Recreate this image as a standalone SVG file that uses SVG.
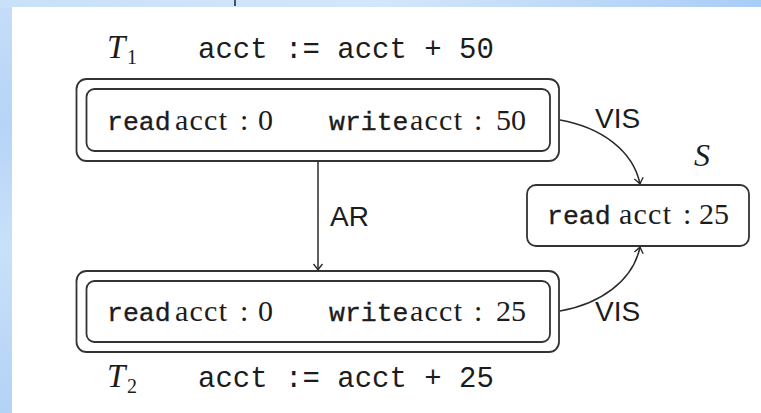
<svg xmlns="http://www.w3.org/2000/svg" width="761" height="413" viewBox="0 0 761 413">
  <defs>
    <linearGradient id="bgTop" x1="0" y1="0" x2="1" y2="0">
      <stop offset="0" stop-color="#c9e0f9"/>
      <stop offset="0.5" stop-color="#d4e6fa"/>
      <stop offset="1" stop-color="#a9cdf6"/>
    </linearGradient>
    <linearGradient id="bgLeft" x1="0" y1="0" x2="0" y2="1">
      <stop offset="0" stop-color="#c6ddf8"/>
      <stop offset="0.3" stop-color="#b6d4f7"/>
      <stop offset="0.6" stop-color="#c9e0f9"/>
      <stop offset="1" stop-color="#b3d2f6"/>
    </linearGradient>
    <marker id="tip" viewBox="-8 -6 10 12" markerWidth="10" markerHeight="12" refX="0" refY="0" orient="auto" markerUnits="userSpaceOnUse">
      <path d="M-6,-4.5 Q-2,-1.2 0,0 Q-2,1.2 -6,4.5" fill="none" stroke="#2a2a2a" stroke-width="1.4"/>
    </marker>
  </defs>
  <style>
    .box { fill: #ffffff; stroke: #333333; stroke-width: 1.8; }
    .edge { fill: none; stroke: #2a2a2a; stroke-width: 1.5; }
    .tt { font-family: "Liberation Mono", "DejaVu Sans Mono", monospace; fill: #1c1c1c; }
    .op { font-size: 26.5px; stroke: #1c1c1c; stroke-width: 0.35; }
    .rm { font-family: "Liberation Serif", "DejaVu Serif", serif; fill: #1c1c1c; }
    .it { font-family: "Liberation Serif", "DejaVu Serif", serif; font-style: italic; fill: #1c1c1c; }
    .sf { font-family: "Liberation Sans", "DejaVu Sans", sans-serif; fill: #1c1c1c; font-size: 28px; }
    .val { font-size: 30px; }
  </style>

  <!-- page backdrop -->
  <rect x="0" y="0" width="761" height="413" fill="url(#bgLeft)"/>
  <rect x="0" y="0" width="761" height="8" fill="url(#bgTop)"/>
  <rect x="12" y="7" width="749" height="406" fill="#ffffff"/>
  <line x1="235" y1="0" x2="235" y2="6" stroke="#222" stroke-width="1.5"/>

  <!-- transaction T1 -->
  <g id="T1">
    <text class="it" x="107" y="58" font-size="33">T</text>
    <text class="rm" x="127" y="64" font-size="20">1</text>
    <text class="tt" x="198" y="58" font-size="29">acct := acct + 50</text>
    <rect class="box" x="76.5" y="79" width="482.5" height="82" rx="10"/>
    <rect class="box" x="86.5" y="89" width="463.5" height="62" rx="8"/>
    <text class="tt op" x="107" y="130">read</text>
    <text class="rm val" x="175" y="130" textLength="52">acct</text>
    <text class="rm val" x="240" y="130">:</text>
    <text class="rm val" x="258" y="130">0</text>
    <text class="tt op" x="329" y="130">write</text>
    <text class="rm val" x="410" y="130" textLength="52">acct</text>
    <text class="rm val" x="474" y="130">:</text>
    <text class="rm val" x="496" y="130">50</text>
  </g>

  <!-- transaction T2 -->
  <g id="T2">
    <rect class="box" x="76.5" y="271" width="482.5" height="81" rx="10"/>
    <rect class="box" x="86.5" y="281" width="463.5" height="61" rx="8"/>
    <text class="tt op" x="107" y="321">read</text>
    <text class="rm val" x="175" y="321" textLength="52">acct</text>
    <text class="rm val" x="240" y="321">:</text>
    <text class="rm val" x="258" y="321">0</text>
    <text class="tt op" x="329" y="321">write</text>
    <text class="rm val" x="410" y="321" textLength="52">acct</text>
    <text class="rm val" x="474" y="321">:</text>
    <text class="rm val" x="496" y="321">25</text>
    <text class="it" x="107" y="387" font-size="33">T</text>
    <text class="rm" x="127" y="393" font-size="20">2</text>
    <text class="tt" x="198" y="387" font-size="29">acct := acct + 25</text>
  </g>

  <!-- session S -->
  <g id="S">
    <text class="it" x="694" y="166" font-size="32">S</text>
    <rect class="box" x="527" y="185" width="222" height="61" rx="9"/>
    <text class="tt op" x="547" y="224">read</text>
    <text class="rm val" x="619" y="224" textLength="52">acct</text>
    <text class="rm val" x="683" y="224">:</text>
    <text class="rm val" x="699" y="224">25</text>
  </g>

  <!-- relations -->
  <g id="edges">
    <line class="edge" x1="318" y1="161" x2="318" y2="270" marker-end="url(#tip)"/>
    <path class="edge" d="M560,120 C600,127 633,150 640,184" marker-end="url(#tip)"/>
    <path class="edge" d="M560,311 C600,304 633,281 640,247" marker-end="url(#tip)"/>
    <text class="sf" x="330" y="226">AR</text>
    <text class="sf" x="595" y="128">VIS</text>
    <text class="sf" x="595" y="321">VIS</text>
  </g>
</svg>
